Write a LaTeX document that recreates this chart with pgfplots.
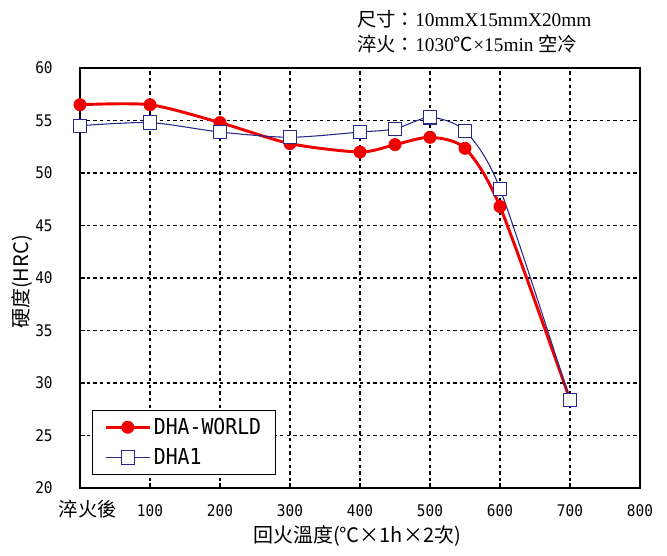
\documentclass[border=0pt]{standalone}
\usepackage{fontspec}
\usepackage{pgfplots}
\pgfplotsset{compat=1.18}
\setmainfont{Liberation Serif}
\newfontfamily\cjk{Noto Sans CJK TC}
\newfontfamily\gothic[FakeStretch=0.9]{DejaVu Sans Mono}

\definecolor{worldred}{RGB}{240,0,0}
\definecolor{dhablue}{RGB}{40,40,140}

\begin{document}
\begin{tikzpicture}
\begin{axis}[
  name=ax, at={(0,0)}, anchor=south west,
  scale only axis, width=420pt, height=315pt,
  xmin=0, xmax=800, ymin=20, ymax=60,
  xtick={0,100,...,800},
  xticklabels={\hspace*{12pt}{\cjk\fontsize{14.5}{16}\selectfont 淬火後},100,200,300,400,500,600,700,800},
  ytick={20,25,...,60},
  grid=major,
  major grid style={black, line width=0.9pt, dash pattern=on 2.5pt off 2.5pt},
  axis line style={black, line width=0.8pt},
  tick style={black, line width=0.8pt},
  tick align=inside, xtick pos=bottom, ytick pos=left, major tick length=4pt,
  /pgf/number format/assume math mode=true,
  ticklabel style={font=\gothic\fontsize{12}{14}\selectfont},
  xticklabel style={yshift=-8pt, text height=10pt},
  yticklabel style={xshift=-17pt},
  legend style={at={(0.021,0.031)}, anchor=south west, draw=black, line width=0.8pt,
    font=\gothic\fontsize{16.5}{19}\selectfont, row sep=5pt, inner xsep=9pt, inner ysep=4pt,
    cells={anchor=west}},
  legend image code/.code={\draw[mark repeat=2, mark phase=2, #1]
    plot coordinates {(0pt,0pt) (16.5pt,0pt) (33pt,0pt)};},
]
\addplot[worldred, line width=2.2pt, smooth, tension=0.45, mark=*, mark size=4.6pt,
  mark options={solid, fill=worldred, draw=worldred, line width=0.5pt}]
  coordinates {(0,56.5) (100,56.5) (200,54.8) (300,52.8) (400,52.0) (450,52.7) (500,53.4) (550,52.35) (600,46.8) (700,28.4)};
\addlegendentry{DHA-WORLD}
\addplot[dhablue, line width=0.8pt, smooth, tension=0.45, mark=square*, mark size=5pt,
  mark options={solid, fill=white, draw=dhablue, line width=0.8pt}]
  coordinates {(0,54.5) (100,54.8) (200,53.9) (300,53.4) (400,53.9) (450,54.2) (500,55.3) (550,54.0) (600,48.5) (700,28.4)};
\addlegendentry{DHA1}
\end{axis}
\node[anchor=west, inner sep=0pt, font=\fontsize{14.5}{17}\selectfont] at (207.75pt,351.75pt) {{\cjk 尺寸：}10mmX15mmX20mm};
\node[anchor=west, inner sep=0pt, font=\fontsize{14.5}{17}\selectfont] at (207.75pt,333pt) {{\cjk 淬火：}1030{\cjk ℃}×15min {\cjk 空冷}};
\node[rotate=90, inner sep=0pt, font=\cjk\fontsize{15}{18}\selectfont] at (-43.5pt,154.5pt) {硬度(HRC)};
\node[inner sep=0pt, font=\cjk\fontsize{15}{18}\selectfont] at (207.75pt,-36pt) {回火溫度(℃×1h×2次)};
\pgfresetboundingbox
\path[use as bounding box] (-60pt,-51pt) rectangle (440.25pt,366pt);
\end{tikzpicture}
\end{document}
